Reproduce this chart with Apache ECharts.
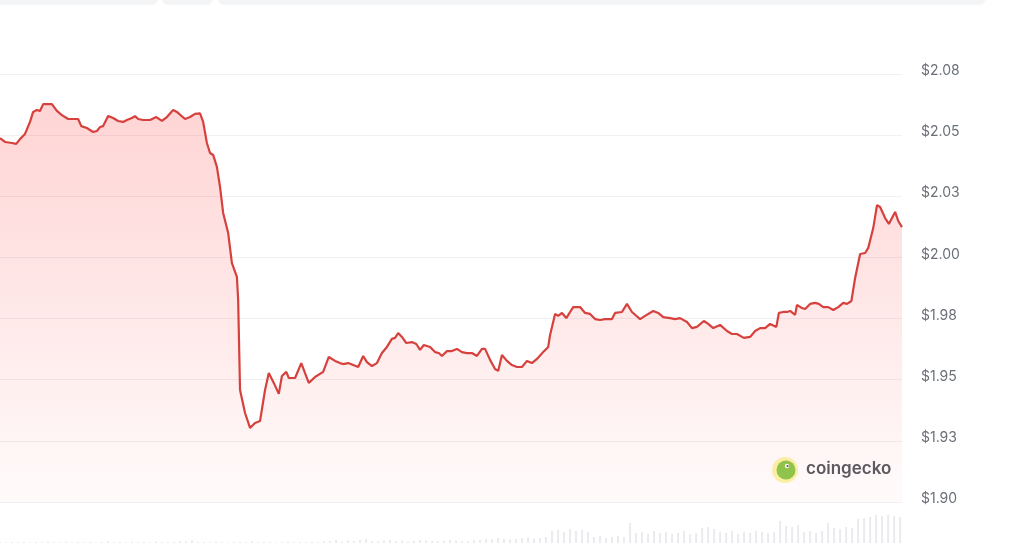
<!DOCTYPE html>
<html>
<head>
<meta charset="utf-8">
<style>
html,body{margin:0;padding:0;background:#fff;}
#chart{width:1024px;height:543px;}
</style>
<script src="https://cdn.jsdelivr.net/npm/echarts@6/dist/echarts.min.js"></script>
</head>
<body>
<div id="chart"></div>
<script>
// minutes since the start of the 24h window
const times = [0,8,19,26,32,40,48,53,59,64,69,75,83,91,99,109,117,125,130,139,149,155,160,165,173,181,189,197,203,211,216,221,229,240,250,259,267,277,283,296,304,312,320,325,331,336,341,347,352,357,365,371,379,381,384,392,400,408,416,424,430,438,446,451,458,462,472,482,488,494,504,517,526,536,544,549,557,565,573,581,587,595,603,611,619,627,632,637,643,650,659,666,672,678,688,696,702,707,715,723,731,739,747,755,763,771,776,784,792,797,803,811,819,827,835,843,851,859,869,877,880,888,893,899,906,912,917,928,936,944,952,960,968,979,984,995,1003,1011,1024,1032,1045,1053,1061,1072,1080,1088,1099,1107,1115,1126,1133,1141,1152,1163,1171,1179,1190,1200,1208,1216,1224,1232,1242,1246,1253,1259,1264,1272,1275,1283,1288,1296,1304,1310,1317,1325,1333,1341,1349,1355,1362,1368,1376,1384,1389,1397,1403,1408,1416,1422,1432,1437,1443];

const prices = [2.0488,2.0472,2.0468,2.0464,2.0484,2.0505,2.0554,2.0595,2.0603,2.0599,2.0627,2.0627,2.0627,2.0599,2.0582,2.0566,2.0566,2.0566,2.0537,2.0529,2.0513,2.0517,2.0533,2.0537,2.0578,2.0570,2.0558,2.0554,2.0562,2.0570,2.0578,2.0566,2.0562,2.0562,2.0574,2.0558,2.0574,2.0603,2.0595,2.0566,2.0574,2.0587,2.0589,2.0554,2.0468,2.0427,2.0419,2.0370,2.0288,2.0182,2.0100,1.9977,1.9920,1.9826,1.9458,1.9364,1.9303,1.9323,1.9331,1.9458,1.9527,1.9487,1.9442,1.9515,1.9532,1.9507,1.9507,1.9568,1.9527,1.9487,1.9511,1.9532,1.9593,1.9577,1.9568,1.9564,1.9568,1.9560,1.9552,1.9597,1.9572,1.9556,1.9568,1.9609,1.9634,1.9667,1.9671,1.9691,1.9675,1.9650,1.9654,1.9646,1.9622,1.9642,1.9634,1.9613,1.9609,1.9597,1.9617,1.9617,1.9626,1.9613,1.9609,1.9609,1.9597,1.9626,1.9626,1.9581,1.9544,1.9536,1.9601,1.9577,1.9560,1.9552,1.9552,1.9577,1.9568,1.9585,1.9613,1.9634,1.9683,1.9769,1.9761,1.9773,1.9752,1.9777,1.9797,1.9797,1.9773,1.9769,1.9748,1.9744,1.9748,1.9748,1.9773,1.9777,1.9810,1.9777,1.9748,1.9761,1.9781,1.9773,1.9756,1.9752,1.9748,1.9752,1.9736,1.9711,1.9716,1.9740,1.9728,1.9711,1.9724,1.9699,1.9687,1.9687,1.9671,1.9675,1.9699,1.9711,1.9711,1.9728,1.9716,1.9773,1.9777,1.9777,1.9781,1.9765,1.9806,1.9793,1.9789,1.9810,1.9814,1.9810,1.9797,1.9797,1.9785,1.9797,1.9814,1.9810,1.9822,1.9916,2.0014,2.0018,2.0039,2.0120,2.0214,2.0206,2.0161,2.0137,2.0186,2.0149,2.0124];

// volume bars, one every volStep minutes
const volStep = 9.6;
const volume = [1,0.5,1,0.8,1.2,0.6,1,0.7,1.5,1,0.8,1.3,0.6,1,0.9,1.1,0.5,1,1.4,0.8,1,0.6,1.2,0.9,1,0.7,1.3,1,0.8,1.1,
2,1.5,2.5,1.2,1,0.8,1.5,1,0.6,1.2,1,0.8,1.4,0.9,1,1.2,0.7,1,1.3,0.9,1,0.8,1.2,1,1.5,
2,3,1.5,2.5,2,3,4,2,1.5,2.5,3,2,2.5,1.5,2,3,2.5,2,1.8,2.2,3,2.5,2,1.5,2.8,
3,4,3.5,5,4,3.5,
4,5,6,4.5,5,6,
12,13,11,14,12,13,11,
6,7,5,6,7,6,
20,
10,11,9,12,10,11,9,10,12,
9,10,
15,16,14,
11,10,12,9,11,10,12,11,10,11,
22,
17,16,18,
11,12,10,12,
20,
15,14,16,15,
24,25,
26,28,27,28,27,26];

const yTickLabels = ['$1.90','$1.93','$1.95','$1.98','$2.00','$2.03','$2.05','$2.08'];
const yMin = 1.9, yStep = 0.025, yMax = 2.075;

const chart = echarts.init(document.getElementById('chart'), null, {renderer:'canvas'});
const priceData = times.map((t,i)=>[t, prices[i]]);
const volData = volume.map((v,i)=>[i*volStep, v]);

const option = {
  animation:false,
  backgroundColor:'#ffffff',
  grid:[
    {left:0, right:122, top:74, bottom:41, containLabel:false},
    {left:0, right:122, top:505, bottom:0, containLabel:false}
  ],
  xAxis:[
    {type:'value', gridIndex:0, min:0, max:1443, show:false},
    {type:'value', gridIndex:1, min:0, max:1443, show:false}
  ],
  yAxis:[
    {type:'value', gridIndex:0, position:'right', min:yMin, max:yMax, interval:yStep,
     axisLine:{show:false}, axisTick:{show:false},
     splitLine:{show:true, lineStyle:{color:'#eef0f3', width:1}},
     axisLabel:{margin:19, color:'#6b7077', fontSize:14, fontFamily:'Inter',
       verticalAlign:'bottom', lineHeight:6,
       formatter:function(v){return yTickLabels[Math.round((v-yMin)/yStep)]||'';}}
    },
    {type:'value', gridIndex:1, min:0, max:38, show:false}
  ],
  series:[
    {type:'line', xAxisIndex:0, yAxisIndex:0, data:priceData, showSymbol:false, symbol:'none',
     lineStyle:{color:'#d6413d', width:2.2},
     areaStyle:{origin:'start', color:new echarts.graphic.LinearGradient(0,0,0,1,[
       {offset:0, color:'rgba(255,70,70,0.33)'},
       {offset:1, color:'rgba(255,70,70,0.03)'}
     ])},
     z:3},
    {type:'bar', xAxisIndex:1, yAxisIndex:1, data:volData, barWidth:2,
     itemStyle:{color:'#e9ebee'}, z:1}
  ],
  graphic:[
    {type:'rect', shape:{x:-10, y:-10, width:167, height:14, r:5}, style:{fill:'#f3f4f6', shadowBlur:3, shadowColor:'rgba(0,0,0,0.08)'}},
    {type:'rect', shape:{x:163, y:-10, width:49, height:14, r:5}, style:{fill:'#f3f4f6', shadowBlur:3, shadowColor:'rgba(0,0,0,0.08)'}},
    {type:'rect', shape:{x:219, y:-10, width:766, height:14, r:5}, style:{fill:'#f3f4f6', shadowBlur:3, shadowColor:'rgba(0,0,0,0.08)'}},
    {type:'circle', shape:{cx:785, cy:470, r:13}, style:{fill:'#fbf4a8'}},
    {type:'circle', shape:{cx:786, cy:470, r:9.5}, style:{fill:'#8cc84b'}},
    {type:'circle', shape:{cx:787, cy:466, r:2.2}, style:{fill:'#ffffff'}},
    {type:'circle', shape:{cx:787.5, cy:466, r:1}, style:{fill:'#3a5a20'}},
    {type:'text', x:806, y:469, style:{text:'coingecko', fill:'#555a60', font:'600 17px Inter', verticalAlign:'middle', textAlign:'left'}}
  ]
};
chart.setOption(option);
</script>
</body>
</html>
